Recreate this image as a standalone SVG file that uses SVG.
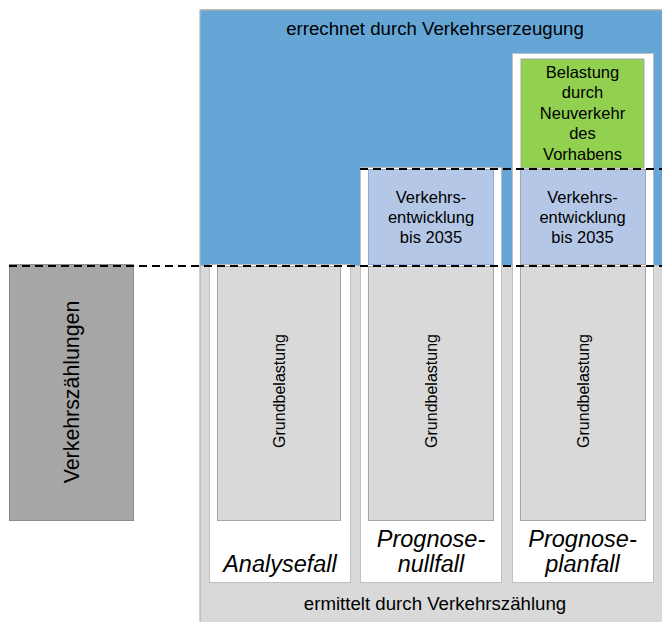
<svg xmlns="http://www.w3.org/2000/svg" width="662" height="622" viewBox="0 0 662 622">
<style>
text{font-family:"Liberation Sans",Arial,sans-serif;fill:#000}
.lbl{font-size:18.67px;text-anchor:middle}
.mid{font-size:16.5px;text-anchor:middle}
.case{font-size:23.5px;font-style:italic;text-anchor:middle}
.rot{font-size:16px;text-anchor:middle}
.white{fill:#fff;stroke:#bfbfbf;stroke-width:1}
.inner{fill:#d9d9d9;stroke:#a6a6a6;stroke-width:1}
.lb{fill:#b4c7e7;stroke:#a6a6a6;stroke-width:1}
.dash{stroke:#000;stroke-width:2;stroke-dasharray:8 5;fill:none}
</style>
<rect width="662" height="622" fill="#fff"/>
<g id="background">
<rect x="200" y="10" width="470" height="620" fill="#d9d9d9" stroke="#a6a6a6" stroke-width="1"/>
<rect x="200.5" y="10.5" width="470" height="255" fill="#65a6d7"/>
<line x1="200" y1="10" x2="662" y2="10" stroke="#a6a6a6" stroke-width="1"/>
<text class="lbl" x="435" y="35">errechnet durch Verkehrserzeugung</text>
<text class="lbl" x="435" y="610">ermittelt durch Verkehrszählung</text>
</g>
<g id="verkehrszaehlungen">
<rect x="9.5" y="264.5" width="124" height="256" fill="#a6a6a6" stroke="#8c8c8c" stroke-width="1"/>
<text transform="translate(79,392) rotate(-90)" style="font-size:21.33px;text-anchor:middle">Verkehrszählungen</text>
</g>
<g id="analysefall">
<rect class="white" x="209.5" y="264.5" width="141" height="318"/>
<rect class="inner" x="217.5" y="266.5" width="123" height="254"/>
<text class="rot" transform="translate(285,391) rotate(-90)">Grundbelastung</text>
<text class="case" x="280" y="572">Analysefall</text>
</g>
<g id="prognosenullfall">
<rect class="white" x="360.5" y="167.5" width="141" height="415"/>
<rect class="lb" x="368.5" y="169.5" width="125" height="95" style="stroke:#8faadc"/>
<text class="mid" x="431" y="203">Verkehrs-</text>
<text class="mid" x="431" y="223">entwicklung</text>
<text class="mid" x="431" y="242.5">bis 2035</text>
<rect class="inner" x="368.5" y="266.5" width="125" height="254"/>
<text class="rot" transform="translate(437,391) rotate(-90)">Grundbelastung</text>
<text class="case" x="431" y="547">Prognose-</text>
<text class="case" x="431" y="572">nullfall</text>
</g>
<g id="prognoseplanfall">
<rect class="white" x="512.5" y="53.5" width="141" height="529"/>
<rect x="521" y="59" width="123" height="109" fill="#92d050" stroke="#a6a6a6" stroke-width="1"/>
<text class="mid" x="582.5" y="77.5">Belastung</text>
<text class="mid" x="582.5" y="98">durch</text>
<text class="mid" x="582.5" y="118.5">Neuverkehr</text>
<text class="mid" x="582.5" y="139">des</text>
<text class="mid" x="582.5" y="159.5">Vorhabens</text>
<rect class="lb" x="520.5" y="169.5" width="125" height="95"/>
<text class="mid" x="582.5" y="203">Verkehrs-</text>
<text class="mid" x="582.5" y="223">entwicklung</text>
<text class="mid" x="582.5" y="242.5">bis 2035</text>
<rect class="inner" x="520.5" y="266.5" width="125" height="254"/>
<text class="rot" transform="translate(589,391) rotate(-90)">Grundbelastung</text>
<text class="case" x="582.5" y="547">Prognose-</text>
<text class="case" x="582.5" y="572">planfall</text>
</g>
<g id="connectors">
<line class="dash" x1="9" y1="266" x2="662" y2="266"/>
<line class="dash" x1="360" y1="169" x2="662" y2="169"/>
</g>
</svg>
